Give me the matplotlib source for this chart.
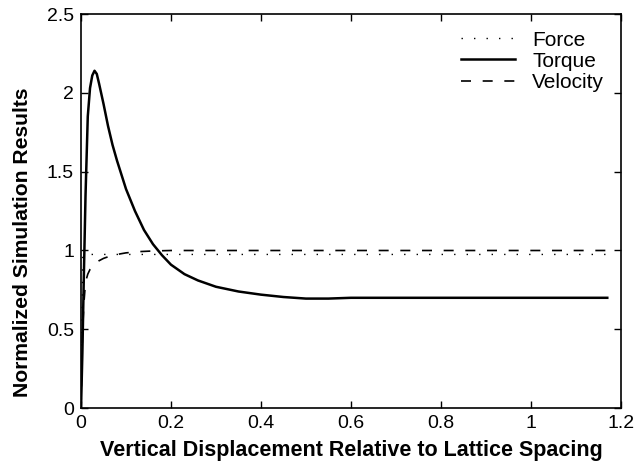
import matplotlib
matplotlib.use('Agg')
import matplotlib.pyplot as plt

plt.rcParams['font.family'] = ['Liberation Sans', 'DejaVu Sans']

# Data
torque_x = [0, 0.003, 0.006, 0.01, 0.015, 0.02, 0.025, 0.03, 0.035, 0.04, 0.05, 0.06,
            0.07, 0.08, 0.09, 0.1, 0.12, 0.14, 0.16, 0.18, 0.2, 0.23, 0.26, 0.3, 0.35,
            0.4, 0.45, 0.5, 0.55, 0.6, 0.7, 0.8, 0.9, 1.0, 1.1, 1.17]
torque_y = [0, 0.35, 0.8, 1.35, 1.85, 2.03, 2.11, 2.14, 2.12, 2.06, 1.93, 1.79,
            1.67, 1.57, 1.48, 1.39, 1.25, 1.13, 1.04, 0.97, 0.91, 0.85, 0.81, 0.77, 0.74,
            0.72, 0.705, 0.695, 0.695, 0.70, 0.70, 0.70, 0.70, 0.70, 0.70, 0.70]

velocity_x = [0, 0.003, 0.006, 0.01, 0.015, 0.02, 0.03, 0.04, 0.05, 0.07, 0.1, 0.13,
              0.16, 0.2, 0.4, 0.6, 0.8, 1.0, 1.17]
velocity_y = [0, 0.45, 0.65, 0.8, 0.85, 0.88, 0.915, 0.935, 0.95, 0.97, 0.985, 0.993,
              0.997, 1.0, 1.0, 1.0, 1.0, 1.0, 1.0]

force_x = [0, 0.004, 0.01, 1.17]
force_y = [0, 0.975, 0.975, 0.975]

fig = plt.figure(figsize=(6.38, 4.67), dpi=100)
ax = fig.add_axes([0.127, 0.126, 0.846, 0.844])

ax.plot(force_x, force_y, color='black', lw=1.0, linestyle=(0, (1, 8)), label='Force')
ax.plot(torque_x, torque_y, color='black', lw=1.8, label='Torque')
ax.plot(velocity_x, velocity_y, color='black', lw=1.2, linestyle=(0, (6, 7)), label='Velocity')

ax.set_xlim(0, 1.2)
ax.set_ylim(0, 2.5)
ax.set_xticks([0, 0.2, 0.4, 0.6, 0.8, 1, 1.2])
ax.set_xticklabels(['0', '0.2', '0.4', '0.6', '0.8', '1', '1.2'])
ax.set_yticks([0, 0.5, 1, 1.5, 2, 2.5])
ax.set_yticklabels(['0', '0.5', '1', '1.5', '2', '2.5'])
ax.tick_params(direction='in', top=True, right=True, labelsize=14, length=5, width=1, pad=5)
for s in ax.spines.values():
    s.set_linewidth(1.2)

ax.set_xlabel('Vertical Displacement Relative to Lattice Spacing', fontsize=15.5,
              fontweight='bold', labelpad=6)
ax.set_ylabel('Normalized Simulation Results', fontsize=15.2, fontweight='bold')
ax.yaxis.set_label_coords(-0.09, 0.42)

ax.legend(loc='upper right', frameon=False, fontsize=15, handlelength=2.6,
          labelspacing=0.1, borderaxespad=0.4)

fig.savefig('out.png', dpi=100)
